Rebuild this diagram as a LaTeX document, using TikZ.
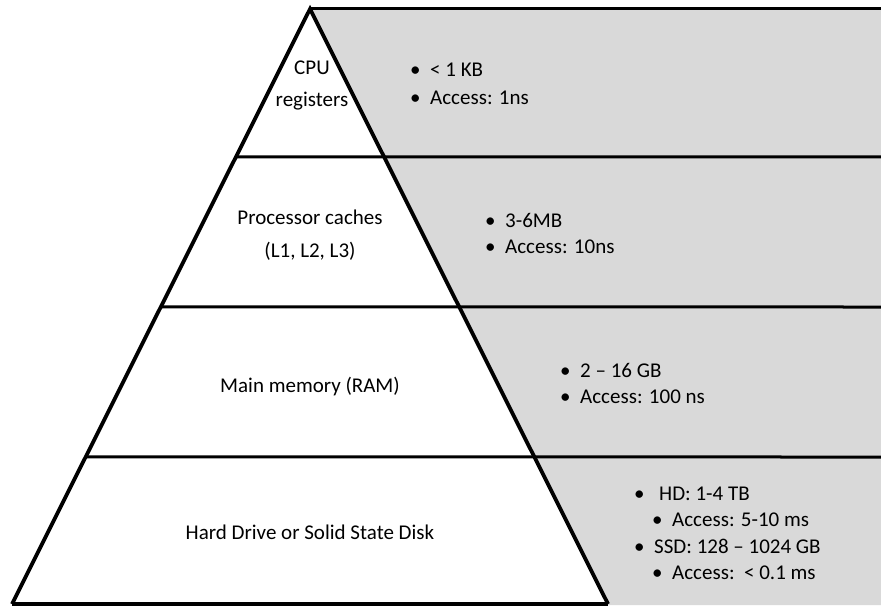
\documentclass[tikz,border=0pt]{standalone}
\usepackage{fontspec}
\setmainfont{Carlito}
\usetikzlibrary{calc}
\definecolor{panelgray}{HTML}{D9D9D9}
\begin{document}
\begin{tikzpicture}[x=1pt,y=-1pt,
  level/.style={font=\fontsize{21}{33}\selectfont, align=center, anchor=base},
  info/.style={font=\fontsize{21}{26}\selectfont, anchor=base west, inner sep=0pt},
  edge/.style={line width=3.8pt, line join=miter},
  divider/.style={line width=3pt}]
\useasboundingbox (0,0) rectangle (881,607);

% pyramid corners
\coordinate (apex) at (310,9);
\coordinate (bl) at (12,604);
\coordinate (br) at (608,604);
\coordinate (tr) at (881,9);
\coordinate (brr) at (881,605);

% shaded panel to the right of the pyramid
\fill[panelgray] (apex) -- (tr) -- (brr) -- (608,605) -- cycle;

% level dividers
\foreach \t/\y/\n in {0.2487/157/a, 0.5008/307/b, 0.7529/457/c}{
  \coordinate (l\n) at ($(apex)!\t!(bl)$);
  \coordinate (r\n) at (881,\y);
  \draw[divider] (l\n) -- (r\n);
}

% top border and pyramid outline
\draw[divider] (apex) -- (tr);
\draw[edge] (bl) -- (apex) -- (br);
\draw[edge] (bl) -- (br);

% level labels
\node[level] (cpu) at (312,75) {CPU};
\node[level] (reg) at (312,107) {registers};
\node[level] (proc) at (310,224) {Processor caches};
\node[level] (lev) at (310,257) {(L1, L2, L3)};
\node[level] (ram) at (310,392) {Main memory (RAM)};
\node[level] (disk) at (310,539) {Hard Drive or Solid State Disk};

% details, level 1
\node[info] (b1a) at (410,77) {•};
\node[info] (t1a) at (430,77) {< 1 KB};
\node[info] (b1b) at (410,105) {•};
\node[info] (t1b) at (430,105) {Access: 1ns};

% details, level 2
\node[info] (b2a) at (485,227) {•};
\node[info] (t2a) at (505,227) {3-6MB};
\node[info] (b2b) at (485,253) {•};
\node[info] (t2b) at (505,253) {Access: 10ns};

% details, level 3
\node[info] (b3a) at (560,377) {•};
\node[info] (t3a) at (580,377) {2 – 16 GB};
\node[info] (b3b) at (560,403) {•};
\node[info] (t3b) at (580,403) {Access: 100 ns};

% details, level 4
\node[info] (b4a) at (634,500) {•};
\node[info] (t4a) at (659,500) {HD: 1-4 TB};
\node[info] (b4b) at (652,526) {•};
\node[info] (t4b) at (672,526) {Access: 5-10 ms};
\node[info] (b4c) at (634,553) {•};
\node[info] (t4c) at (654,553) {SSD: 128 – 1024 GB};
\node[info] (b4d) at (652,579) {•};
\node[info] (t4d) at (672,579) {Access:\ \ < 0.1 ms};
\end{tikzpicture}
\end{document}
